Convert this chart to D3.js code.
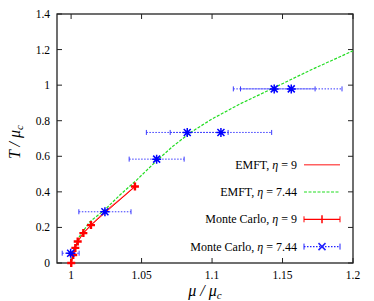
<!DOCTYPE html>
<html>
<head>
<meta charset="utf-8">
<script src="https://cdn.jsdelivr.net/npm/d3@7"></script>
<style>
  body { margin: 0; background: #fff; }
  svg { display: block; font-family: "Liberation Serif", "DejaVu Serif", serif; }
</style>
</head>
<body>
<svg id="chart" width="374" height="301"></svg>
<script>
// EMFT curves
const emft9 = [[1.0, 0], [1.002, 0.08], [1.0047, 0.121], [1.0087, 0.168], [1.0141, 0.213], [1.024, 0.29], [1.035, 0.36], [1.0453, 0.43]];
const emft744 = [[1.0, 0], [1.002, 0.07], [1.006, 0.15], [1.013, 0.23], [1.024, 0.30], [1.035, 0.385], [1.047, 0.47], [1.06, 0.57], [1.072, 0.655], [1.085, 0.735], [1.1, 0.81], [1.12, 0.895], [1.142, 0.978], [1.17, 1.085], [1.2, 1.193]];

// Monte Carlo points: mu, T, x error
const mc9Mu = [1.0001, 1.0015, 1.003, 1.0047, 1.0087, 1.0141, 1.0453];
const mc9T = [0.0, 0.045, 0.085, 0.121, 0.168, 0.213, 0.43];
const mc9Err = [0.0006, 0.0006, 0.0006, 0.0007, 0.0008, 0.0009, 0.0012];

const mc744Mu = [0.9997, 1.024, 1.0607, 1.0824, 1.1063, 1.1441, 1.1562];
const mc744T = [0.055, 0.288, 0.584, 0.734, 0.734, 0.979, 0.979];
const mc744Err = [0.006, 0.0185, 0.0195, 0.029, 0.036, 0.029, 0.036];

const xTicks = [1, 1.05, 1.1, 1.15, 1.2];
const yTicks = [0, 0.2, 0.4, 0.6, 0.8, 1, 1.2, 1.4];

const width = 374, height = 301;
const margin = { top: 14, right: 21, bottom: 38, left: 57 };

const svg = d3.select("#chart");

const x = d3.scaleLinear().domain([0.99, 1.2]).range([margin.left, width - margin.right]);
const y = d3.scaleLinear().domain([0, 1.4]).range([height - margin.bottom, margin.top]);

const mc9 = mc9Mu.map((m, i) => ({ mu: m, t: mc9T[i], e: mc9Err[i] }));
const mc744 = mc744Mu.map((m, i) => ({ mu: m, t: mc744T[i], e: mc744Err[i] }));

const line = d3.line().x(d => x(d[0])).y(d => y(d[1]));
const mcLine = d3.line().x(d => x(d.mu)).y(d => y(d.t));

const plus = "M-4,0H4M0,-4V4";
const star = "M-3.5,-3.5L3.5,3.5M-3.5,3.5L3.5,-3.5M-4.5,0H4.5M0,-4.5V4.5";

// ticks (inside, mirrored)
const axes = svg.append("g").attr("stroke", "#222").attr("stroke-width", 1);
axes.selectAll(".xt").data(xTicks).join("path")
    .attr("d", d => `M${x(d)},${y(0)}v-5M${x(d)},${y(1.4)}v5`);
axes.selectAll(".yt").data(yTicks).join("path")
    .attr("d", d => `M${x(0.99)},${y(d)}h5M${x(1.2)},${y(d)}h-5`);

svg.append("g")
    .attr("font-size", 11.5)
    .attr("text-anchor", "middle")
    .selectAll("text").data(xTicks).join("text")
    .attr("x", d => x(d)).attr("y", y(0) + 16)
    .text(d => d3.format("")(d));

svg.append("g")
    .attr("font-size", 11.5)
    .attr("text-anchor", "end")
    .selectAll("text").data(yTicks).join("text")
    .attr("x", x(0.99) - 7).attr("y", d => y(d) + 4)
    .text(d => d3.format("")(d));

// frame
svg.append("rect")
    .attr("x", x(0.99)).attr("y", y(1.4))
    .attr("width", x(1.2) - x(0.99)).attr("height", y(0) - y(1.4))
    .attr("fill", "none").attr("stroke", "#222").attr("stroke-width", 1.3);

// axis labels
svg.append("text")
    .attr("x", 205).attr("y", 296)
    .attr("text-anchor", "middle").attr("font-size", 16).attr("font-style", "italic")
    .html("μ / μ<tspan font-size='11' dy='3'>c</tspan>");

svg.append("text")
    .attr("transform", "translate(20,142) rotate(-90)")
    .attr("text-anchor", "middle").attr("font-size", 16).attr("font-style", "italic")
    .html("T / μ<tspan font-size='11' dy='3'>c</tspan>");

const plot = svg.append("g");

// EMFT eta = 9
plot.append("path").datum(emft9)
    .attr("d", line).attr("fill", "none")
    .attr("stroke", "#ff6060").attr("stroke-width", 1.2);

// EMFT eta = 7.44
plot.append("path").datum(emft744)
    .attr("d", line).attr("fill", "none")
    .attr("stroke", "#22dd22").attr("stroke-width", 1.2)
    .attr("stroke-dasharray", "3,1.5");

// Monte Carlo eta = 9
plot.append("path").datum(mc9)
    .attr("d", mcLine).attr("fill", "none")
    .attr("stroke", "#ff0000").attr("stroke-width", 1);
plot.append("g").attr("stroke", "#ff0000").attr("stroke-width", 1)
    .selectAll("path").data(mc9).join("path")
    .attr("d", d => `M${x(d.mu - d.e)},${y(d.t)}H${x(d.mu + d.e)}`);
plot.append("g").attr("stroke", "#ff0000").attr("stroke-width", 2.4)
    .selectAll("path").data(mc9).join("path")
    .attr("transform", d => `translate(${x(d.mu)},${y(d.t)})`)
    .attr("d", plus);

// Monte Carlo eta = 7.44 (error bars only)
const eb = plot.append("g").attr("stroke", "#3a3aff").attr("stroke-width", 1)
    .selectAll("g").data(mc744).join("g");
eb.append("path")
    .attr("d", d => `M${x(d.mu - d.e)},${y(d.t)}H${x(d.mu + d.e)}`)
    .attr("stroke-dasharray", "1.5,1.5");
eb.append("path")
    .attr("d", d => `M${x(d.mu - d.e)},${y(d.t) - 2.5}v5M${x(d.mu + d.e)},${y(d.t) - 2.5}v5`);
plot.append("g").attr("stroke", "#0000ff").attr("stroke-width", 1.5)
    .selectAll("path").data(mc744).join("path")
    .attr("transform", d => `translate(${x(d.mu)},${y(d.t)})`)
    .attr("d", star);

// legend
const legendItems = [
  { label: "EMFT, ", eta: "9", color: "#ff6060", dash: null, width: 1.6, mark: null },
  { label: "EMFT, ", eta: "7.44", color: "#22dd22", dash: "3,1.5", width: 1.2, mark: null },
  { label: "Monte Carlo, ", eta: "9", color: "#ff0000", dash: null, width: 1.2, mark: "M0,-4V4" },
  { label: "Monte Carlo, ", eta: "7.44", color: "#2222ff", dash: "1.5,1.5", width: 1.2, mark: "M-3.5,-3.5L3.5,3.5M-3.5,3.5L3.5,-3.5" }
];

const lg = svg.append("g").selectAll("g").data(legendItems).join("g")
    .attr("transform", (d, i) => `translate(0,${164.7 + i * 27.3})`);

const lt = lg.append("text")
    .attr("x", 297).attr("y", 4).attr("text-anchor", "end").attr("font-size", 12);
lt.append("tspan").text(d => d.label);
lt.append("tspan").attr("font-style", "italic").text("η");
lt.append("tspan").text(d => " = " + d.eta);

lg.append("path")
    .attr("d", "M304,0H340")
    .attr("stroke", d => d.color).attr("stroke-width", d => d.width)
    .attr("stroke-dasharray", d => d.dash);
lg.filter((d, i) => i >= 2).append("path")
    .attr("d", "M304,-3v6M340,-3v6")
    .attr("stroke", d => d.color).attr("stroke-width", 1);
lg.filter(d => d.mark).append("path")
    .attr("transform", "translate(322,0)")
    .attr("d", d => d.mark)
    .attr("stroke", d => d.color).attr("stroke-width", 1.5);
</script>
</body>
</html>
